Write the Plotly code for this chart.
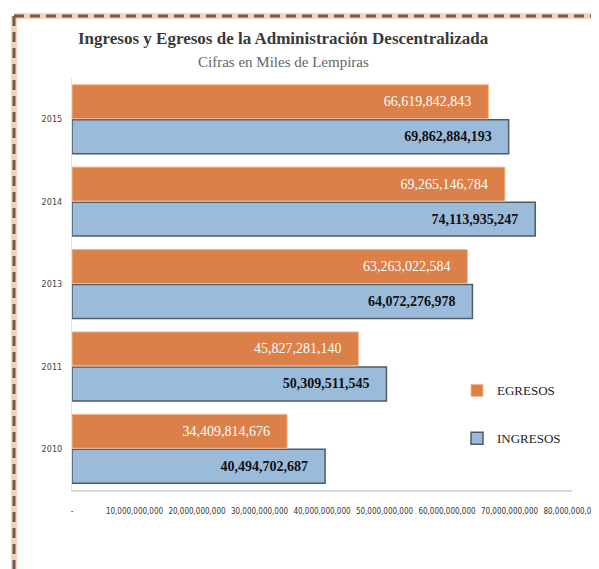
import plotly.graph_objects as go

years = ["2010", "2011", "2013", "2014", "2015"]
egresos = [34409814676, 45827281140, 63263022584, 69265146784, 66619842843]
ingresos = [40494702687, 50309511545, 64072276978, 74113935247, 69862884193]
tick_vals = [0, 1e10, 2e10, 3e10, 4e10, 5e10, 6e10, 7e10, 8e10]
tick_text = ["-", "10,000,000,000", "20,000,000,000", "30,000,000,000", "40,000,000,000",
             "50,000,000,000", "60,000,000,000", "70,000,000,000", "80,000,000,000"]

SERIF = "Liberation Serif, serif"
NARROW = "Liberation Sans Narrow, Arial Narrow, DejaVu Sans Condensed, sans-serif"
NB = "\u00a0" * 4

fig = go.Figure()
fig.add_trace(go.Bar(
    y=years, x=ingresos, orientation="h", name="INGRESOS", legendgroup="i", legendrank=2,
    marker=dict(color="#9BBBDB", line=dict(color="#4F5B66", width=1.5)),
    text=[f"{v:,}" + NB for v in ingresos], textposition="inside", insidetextanchor="end",
    textfont=dict(family=SERIF, size=14, color="#111111", weight="bold"),
))
fig.add_trace(go.Bar(
    y=years, x=egresos, orientation="h", name="EGRESOS", legendgroup="e", legendrank=1,
    marker=dict(color="#DB8048", line=dict(color="#F6B98C", width=1)),
    text=[f"{v:,}" + NB for v in egresos], textposition="inside", insidetextanchor="end",
    textfont=dict(family=SERIF, size=14, color="#FFFFFF"),
))

shapes = []
for color, width, dash in [("rgba(250,190,150,0.7)", 6, "solid"), ("#6E5A50", 3, "10px,6px")]:
    shapes.append(dict(type="line", xref="paper", yref="paper", x0=-0.116, x1=-0.116,
                       y0=1.1505, y1=-0.22, line=dict(color=color, width=width, dash=dash), layer="above"))
    shapes.append(dict(type="line", xref="paper", yref="paper", x0=-0.116, x1=1.08,
                       y0=1.1505, y1=1.1505, line=dict(color=color, width=width, dash=dash), layer="above"))

fig.update_layout(
    width=599, height=569,
    margin=dict(l=64, r=35, t=70, b=87, autoexpand=False),
    paper_bgcolor="white", plot_bgcolor="white",
    barmode="group", bargap=0.15, bargroupgap=0.03,
    showlegend=True,
    legend=dict(x=0.77, y=0.278, xanchor="left", yanchor="top", traceorder="grouped",
                tracegroupgap=28, font=dict(family=SERIF, size=13, color="#222222"),
                bgcolor="rgba(0,0,0,0)", itemwidth=30),
    xaxis=dict(range=[0, 8e10], tickvals=tick_vals, ticktext=tick_text, showgrid=False,
               zeroline=False, showline=True, linecolor="#D9D9D9", linewidth=2, automargin=False,
               tickangle=0,
               tickfont=dict(family=NARROW, size=8, color="#333333"), ticks="", ticklabelstandoff=12),
    yaxis=dict(showgrid=False, showline=True, linecolor="#E3E3E3", linewidth=1, ticks="", automargin=False,
               tickfont=dict(family=NARROW, size=9, color="#444444"), ticklabelstandoff=7),
    shapes=shapes,
    annotations=[
        dict(text="<b>Ingresos y Egresos de la Administración Descentralizada</b>", xref="paper", yref="paper",
             x=0.422, y=1.097, showarrow=False, xanchor="center", yanchor="middle",
             font=dict(family=SERIF, size=17, color="#3A3A3A")),
        dict(text="Cifras en Miles de Lempiras", xref="paper", yref="paper",
             x=0.422, y=1.039, showarrow=False, xanchor="center", yanchor="middle",
             font=dict(family=SERIF, size=15, color="#666666")),
    ],
)

fig.write_html("out.html")
